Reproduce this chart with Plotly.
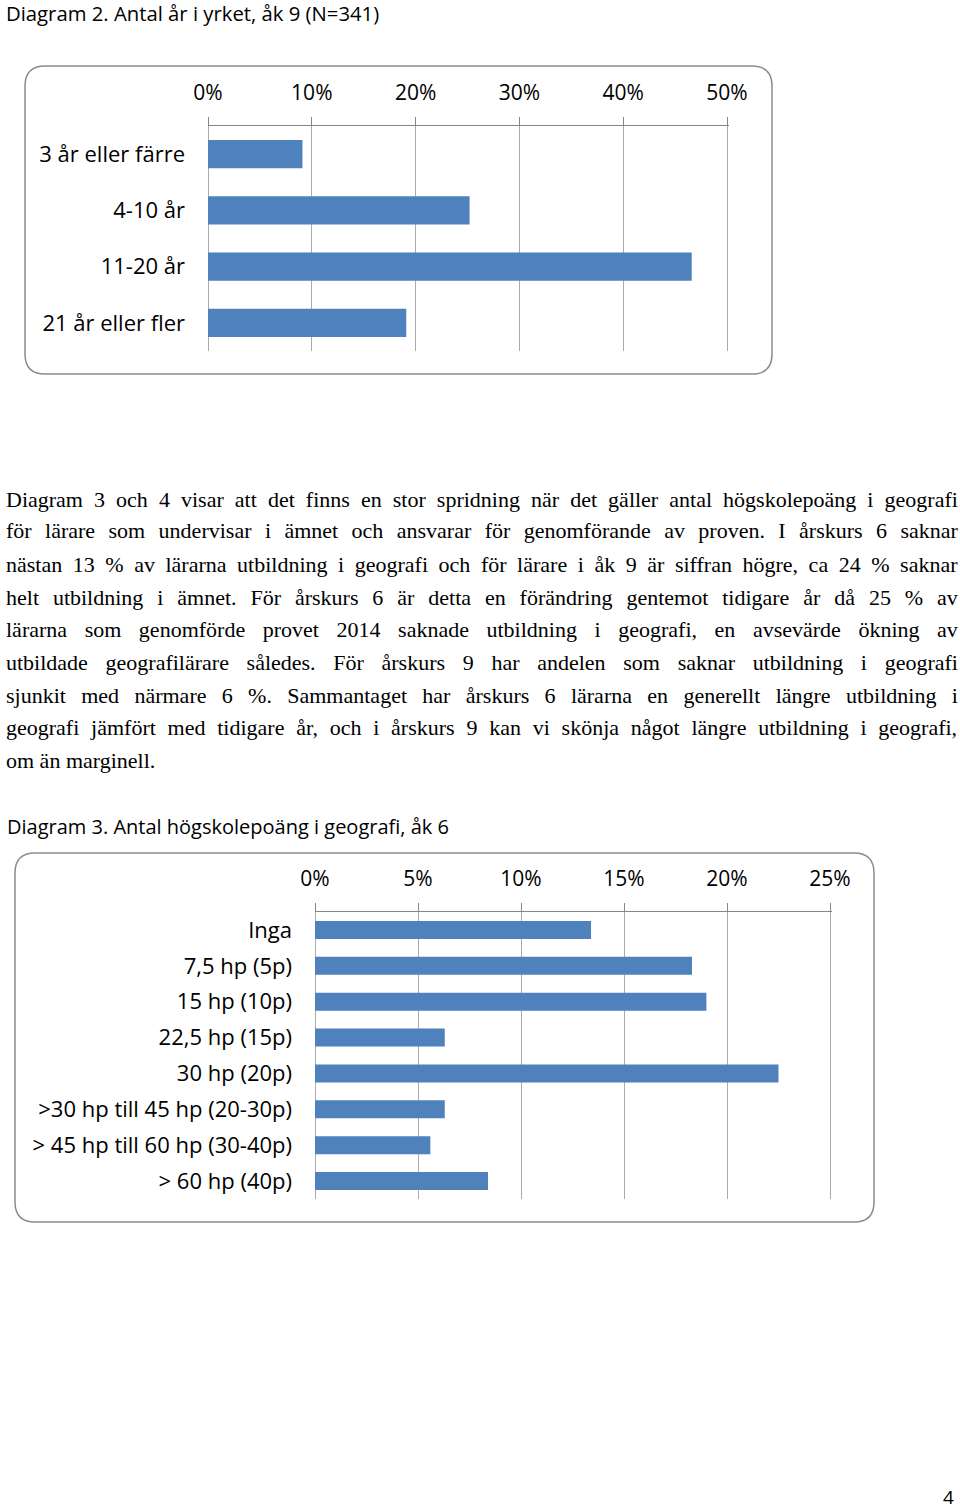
import plotly.graph_objects as go

# ---------------- data ----------------
cats1 = ["3 år eller färre", "4-10 år", "11-20 år", "21 år eller fler"]
vals1 = [9.1, 25.2, 46.6, 19.1]
ticks1 = [0, 10, 20, 30, 40, 50]

cats2 = ["Inga", "7,5 hp (5p)", "15 hp (10p)", "22,5 hp (15p)", "30 hp (20p)",
         ">30 hp till 45 hp (20-30p)", "> 45 hp till 60 hp (30-40p)", "> 60 hp (40p)"]
vals2 = [13.4, 18.3, 19.0, 6.3, 22.5, 6.3, 5.6, 8.4]
ticks2 = [0, 5, 10, 15, 20, 25]

title1 = "Diagram 2. Antal år i yrket, åk 9 (N=341)"
title2 = "Diagram 3. Antal högskolepoäng i geografi, åk 6"
para_lines = [
    "Diagram 3 och 4 visar att det finns en stor spridning när det gäller antal högskolepoäng i geografi",
    "för lärare som undervisar i ämnet och ansvarar för genomförande av proven. I årskurs 6 saknar",
    "nästan 13 % av lärarna utbildning i geografi och för lärare i åk 9 är siffran högre, ca 24 % saknar",
    "helt utbildning i ämnet. För årskurs 6 är detta en förändring gentemot tidigare år då 25 % av",
    "lärarna som genomförde provet 2014 saknade utbildning i geografi, en avsevärde ökning av",
    "utbildade geografilärare således. För årskurs 9 har andelen som saknar utbildning i geografi",
    "sjunkit med närmare 6 %. Sammantaget har årskurs 6 lärarna en generellt längre utbildning i",
    "geografi jämfört med tidigare år, och i årskurs 9 kan vi skönja något längre utbildning i geografi,",
    "om än marginell.",
]
page_no = "4"

# ---------------- layout helpers ----------------
W, H = 960, 1509
BAR = "#4F81BD"
GRID = "#ABABAB"
AXL = "#868686"
SANS = "Open Sans"
SERIF = "Liberation Serif"


def px(x):
    return x / W


def py(y):
    return 1 - y / H


def rounded_box(x0, y0, x1, y1, r=20):
    rx, ry = r / W, r / H
    X0, X1 = px(x0), px(x1)
    Y0, Y1 = py(y0), py(y1)
    return (f"M {X0+rx},{Y0} L {X1-rx},{Y0} Q {X1},{Y0} {X1},{Y0-ry} "
            f"L {X1},{Y1+ry} Q {X1},{Y1} {X1-rx},{Y1} L {X0+rx},{Y1} "
            f"Q {X0},{Y1} {X0},{Y1+ry} L {X0},{Y0-ry} Q {X0},{Y0} {X0+rx},{Y0} Z")


def xdomain(p0, p1, vmax, pad):
    # pixel positions of 0 and vmax; range extended by pad so the last gridline shows
    span = (p1 - p0) * (vmax + pad) / vmax
    return [px(p0), px(p0 + span)], [0, vmax + pad]


# Times / Liberation Serif width table (1/1000 em) for justification
TW = {' ': 250, 'a': 444, 'b': 500, 'c': 444, 'd': 500, 'e': 444, 'f': 333, 'g': 500,
      'h': 500, 'i': 278, 'j': 278, 'k': 500, 'l': 278, 'm': 778, 'n': 500, 'o': 500,
      'p': 500, 'q': 500, 'r': 333, 's': 389, 't': 278, 'u': 500, 'v': 500, 'w': 722,
      'x': 500, 'y': 500, 'z': 444, 'ä': 444, 'å': 444, 'ö': 500, 'D': 722, 'I': 333,
      'F': 556, 'S': 556, '%': 833, '.': 250, ',': 250}


def text_w(s, size):
    return sum(TW.get(c, 500) for c in s) * size / 1000


fig = go.Figure()
fig.add_trace(go.Bar(x=vals1, y=cats1, orientation="h", marker_color=BAR,
                     xaxis="x", yaxis="y", showlegend=False, hoverinfo="skip"))
fig.add_trace(go.Bar(x=vals2, y=cats2, orientation="h", marker_color=BAR,
                     xaxis="x2", yaxis="y2", showlegend=False, hoverinfo="skip"))

xcommon = dict(side="top", ticks="outside", ticklen=8, tickcolor=AXL, tickwidth=1,
               showline=True, linecolor=AXL, linewidth=1, showgrid=True,
               gridcolor=GRID, gridwidth=1, zeroline=True, zerolinecolor=GRID,
               zerolinewidth=1, tickfont=dict(family=SANS, size=21, color="black"),
               ticklabelstandoff=9, fixedrange=True, tickmode="array", automargin=False)
ycommon = dict(showgrid=False, zeroline=False, showline=False, ticks="",
               autorange="reversed", tickfont=dict(family=SANS, size=22, color="black"),
               ticklabelstandoff=22, fixedrange=True, automargin=False)

dom1, rng1 = xdomain(208, 727, ticks1[-1], 0.2)
dom2, rng2 = xdomain(315, 830, ticks2[-1], 0.1)

fig.update_layout(
    template="none",
    width=W, height=H, autosize=False,
    margin=dict(l=0, r=0, t=0, b=0, pad=0, autoexpand=False),
    paper_bgcolor="white", plot_bgcolor="white",
    bargap=0.5,
    xaxis=dict(domain=dom1, range=rng1, tickvals=ticks1,
               ticktext=[f"{v}%" for v in ticks1], anchor="y", **xcommon),
    yaxis=dict(domain=[py(351), py(126)], anchor="x", **ycommon),
    xaxis2=dict(domain=dom2, range=rng2, tickvals=ticks2,
                ticktext=[f"{v}%" for v in ticks2], anchor="y2", **xcommon),
    yaxis2=dict(domain=[py(1199), py(912)], anchor="x2", **ycommon),
)

shapes = [
    dict(type="path", xref="paper", yref="paper", path=rounded_box(25, 66, 772, 374),
         line=dict(color="#8C8C8C", width=1.5), layer="below"),
    dict(type="path", xref="paper", yref="paper", path=rounded_box(15, 853, 874, 1222),
         line=dict(color="#8C8C8C", width=1.5), layer="below"),
]
fig.update_layout(shapes=shapes)

ann = []
ann.append(dict(text=title1, x=px(4), y=py(13), xref="paper", yref="paper",
                xanchor="left", yanchor="middle", showarrow=False,
                font=dict(family=SANS, size=20.3, color="black")))
ann.append(dict(text=title2, x=px(5), y=py(826), xref="paper", yref="paper",
                xanchor="left", yanchor="middle", showarrow=False,
                font=dict(family=SANS, size=20, color="black")))

PSIZE = 22
line_y = [499, 531, 564, 597, 629, 662, 695, 727, 760]
target = 952
for i, (line, yy) in enumerate(zip(para_lines, line_y)):
    txt = line
    if i < len(para_lines) - 1:
        nsp = line.count(" ")
        extra = (target - text_w(line, PSIZE)) / max(nsp, 1)
        txt = f'<span style="word-spacing:{extra:.2f}px">{line}</span>'
    ann.append(dict(text=txt, x=px(4), y=py(yy), xref="paper", yref="paper",
                    xanchor="left", yanchor="middle", showarrow=False,
                    font=dict(family=SERIF, size=PSIZE, color="black")))

ann.append(dict(text=page_no, x=px(956), y=py(1497), xref="paper", yref="paper",
                xanchor="right", yanchor="middle", showarrow=False,
                font=dict(family=SANS, size=19, color="black")))
fig.update_layout(annotations=ann)

fig.write_html("out.html", config={"displayModeBar": False},
               post_script="document.body.style.margin='0';document.body.style.overflow='hidden';")
